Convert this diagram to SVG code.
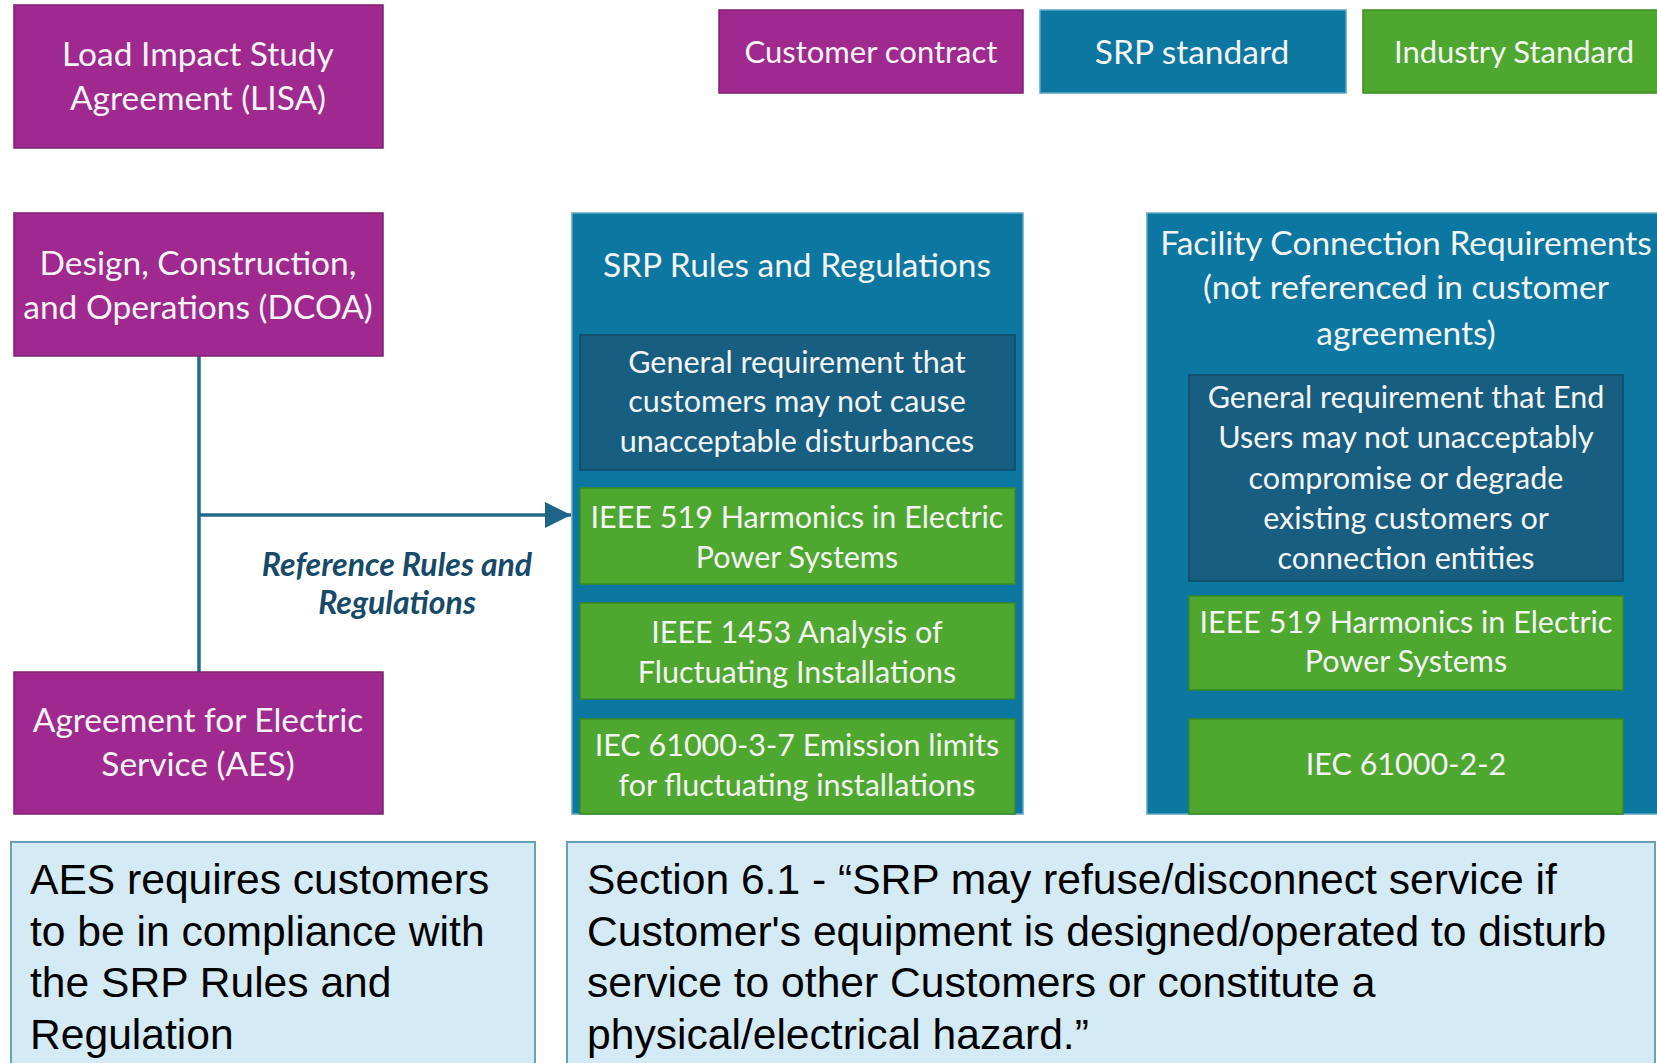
<svg xmlns="http://www.w3.org/2000/svg" width="1657" height="1063" viewBox="0 0 1657 1063">
<defs>
<style>
.pur{fill:#A0298F;stroke:#7D1F70;stroke-width:1.5}
.blu{fill:#0C77A0;stroke:#5FA6C4;stroke-width:1.5}
.dk{fill:#175E80;stroke:#0F4A66;stroke-width:1.5}
.grn{fill:#4EA72E;stroke:#3A8A20;stroke-width:1.5}
.note{fill:#D4EBF6;stroke:#6A9FB8;stroke-width:2}
.t{font-family:Lato,"Open Sans",sans-serif;fill:#F4F4F4;text-anchor:middle;dominant-baseline:central}
.t33{font-size:33.5px}
.t31{font-size:31px}
.t30{font-size:30.5px}
.lbl{font-family:Lato,"Open Sans",sans-serif;font-size:32px;font-weight:bold;font-style:italic;fill:#174A68;text-anchor:middle;dominant-baseline:central}
.nt{font-family:"Liberation Sans",Arial,sans-serif;font-size:42.6px;fill:#000}
.con{stroke:#236A8C;stroke-width:3.5;fill:none}
</style>
<marker id="arr" viewBox="0 0 10 10" refX="10" refY="5" markerWidth="7.5" markerHeight="7.5" markerUnits="strokeWidth" orient="auto">
<path d="M0,0 L10,5 L0,10 z" fill="#1F6588"/>
</marker>
</defs>
<rect width="1657" height="1063" fill="#FFFFFF"/>

<g id="connectors">
<line class="con" x1="199" y1="356" x2="199" y2="672"/>
<path class="con" d="M199,515 L571,515" marker-end="url(#arr)"/>
<g id="label-reference">
<text class="lbl" x="397" y="563">Reference Rules and</text>
<text class="lbl" x="397" y="601">Regulations</text>
</g>
</g>

<g id="node-lisa">
<rect class="pur" x="14" y="5" width="369" height="143"/>
<text class="t t33" x="198" y="53">Load Impact Study</text>
<text class="t t33" x="198" y="97">Agreement (LISA)</text>
</g>
<g id="node-dcoa">
<rect class="pur" x="14" y="213" width="369" height="143"/>
<text class="t t33" x="198" y="262">Design, Construction,</text>
<text class="t t33" x="198" y="306">and Operations (DCOA)</text>
</g>
<g id="node-aes">
<rect class="pur" x="14" y="672" width="369" height="142"/>
<text class="t t33" x="198" y="719">Agreement for Electric</text>
<text class="t t33" x="198" y="763">Service (AES)</text>
</g>

<g id="legend-customer">
<rect class="pur" x="719" y="10" width="304" height="83"/>
<text class="t t31" x="871" y="51">Customer contract</text>
</g>
<g id="legend-srp">
<rect class="blu" x="1040" y="10" width="306" height="83"/>
<text class="t t33" x="1192" y="51">SRP standard</text>
</g>
<g id="legend-industry">
<rect class="grn" x="1363" y="10" width="310" height="83"/>
<text class="t t31" x="1514" y="51">Industry Standard</text>
</g>

<g id="node-srp-rules">
<rect class="blu" x="572" y="213" width="451" height="601"/>
<text class="t t33" x="797" y="264">SRP Rules and Regulations</text>
<g id="srp-general">
<rect class="dk" x="580" y="335" width="435" height="135"/>
<text class="t t30" x="797" y="361">General requirement that</text>
<text class="t t30" x="797" y="400">customers may not cause</text>
<text class="t t30" x="797" y="440">unacceptable disturbances</text>
</g>
<g id="srp-ieee519">
<rect class="grn" x="580" y="488" width="435" height="96"/>
<text class="t t30" x="797" y="516">IEEE 519 Harmonics in Electric</text>
<text class="t t30" x="797" y="556">Power Systems</text>
</g>
<g id="srp-ieee1453">
<rect class="grn" x="580" y="603" width="435" height="96"/>
<text class="t t30" x="797" y="631">IEEE 1453 Analysis of</text>
<text class="t t30" x="797" y="671">Fluctuating Installations</text>
</g>
<g id="srp-iec61000-3-7">
<rect class="grn" x="580" y="719" width="435" height="95"/>
<text class="t t30" x="797" y="744">IEC 61000-3-7 Emission limits</text>
<text class="t t30" x="797" y="784">for fluctuating installations</text>
</g>
</g>

<g id="node-facility">
<rect class="blu" x="1147" y="213" width="530" height="601"/>
<text class="t t33" x="1406" y="242">Facility Connection Requirements</text>
<text class="t t33" x="1406" y="286">(not referenced in customer</text>
<text class="t t33" x="1406" y="332">agreements)</text>
<g id="fac-general">
<rect class="dk" x="1189" y="375" width="434" height="206"/>
<text class="t t30" x="1406" y="396">General requirement that End</text>
<text class="t t30" x="1406" y="436">Users may not unacceptably</text>
<text class="t t30" x="1406" y="477">compromise or degrade</text>
<text class="t t30" x="1406" y="517">existing customers or</text>
<text class="t t30" x="1406" y="557">connection entities</text>
</g>
<g id="fac-ieee519">
<rect class="grn" x="1189" y="596" width="434" height="94"/>
<text class="t t30" x="1406" y="621">IEEE 519 Harmonics in Electric</text>
<text class="t t30" x="1406" y="660">Power Systems</text>
</g>
<g id="fac-iec61000-2-2">
<rect class="grn" x="1189" y="719" width="434" height="95"/>
<text class="t t30" x="1406" y="763">IEC 61000-2-2</text>
</g>
</g>

<g id="note-aes">
<rect class="note" x="11" y="842" width="524" height="230"/>
<text class="nt" x="30" y="894">AES requires customers</text>
<text class="nt" x="30" y="946">to be in compliance with</text>
<text class="nt" x="30" y="997">the SRP Rules and</text>
<text class="nt" x="30" y="1049">Regulation</text>
</g>
<g id="note-section">
<rect class="note" x="567" y="842" width="1088" height="230"/>
<text class="nt" x="587" y="894">Section 6.1 - “SRP may refuse/disconnect service if</text>
<text class="nt" x="587" y="946">Customer's equipment is designed/operated to disturb</text>
<text class="nt" x="587" y="997">service to other Customers or constitute a</text>
<text class="nt" x="587" y="1049">physical/electrical hazard.”</text>
</g>
</svg>
